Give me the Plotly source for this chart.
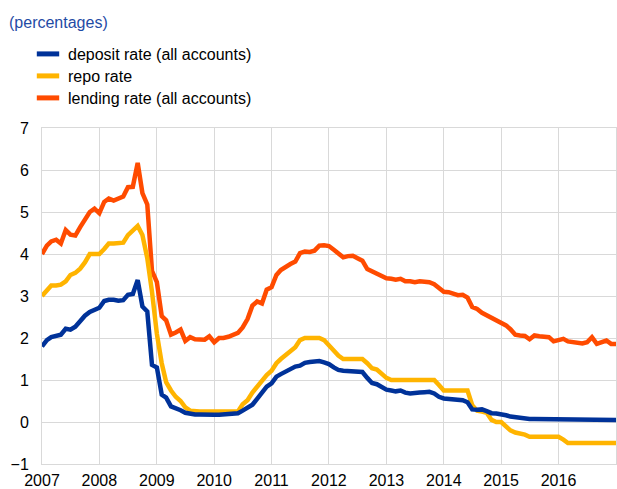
import plotly.graph_objects as go
import pandas as pd

months = pd.date_range("2007-01-01", periods=121, freq="MS").strftime("%Y-%m-%d").tolist()

year_ticks = ["2007-01-01", "2008-01-01", "2009-01-01", "2010-01-01", "2011-01-01",
              "2012-01-01", "2013-01-01", "2014-01-01", "2015-01-01", "2016-01-01"]
year_labels = ["2007", "2008", "2009", "2010", "2011", "2012", "2013", "2014", "2015", "2016"]

deposit_rate = [
    1.80, 1.95, 2.02, 2.06, 2.08, 2.22, 2.20, 2.27, 2.42, 2.53, 2.62, 2.67,
    2.72, 2.88, 2.91, 2.91, 2.89, 2.90, 3.03, 3.05, 3.38, 2.75, 2.63, 1.36,
    1.30, 0.65, 0.58, 0.37, 0.33, 0.28, 0.22, 0.19, 0.18, 0.18, 0.17, 0.17,
    0.17, 0.17, 0.18, 0.19, 0.20, 0.21, 0.27, 0.33, 0.41, 0.55, 0.70, 0.84,
    0.92, 1.08, 1.14, 1.20, 1.27, 1.32, 1.34, 1.41, 1.43, 1.44, 1.45, 1.42,
    1.38, 1.30, 1.24, 1.22, 1.21, 1.20, 1.19, 1.19, 1.05, 0.93, 0.90, 0.85,
    0.77, 0.75, 0.73, 0.75, 0.70, 0.68, 0.70, 0.70, 0.71, 0.72, 0.68, 0.60,
    0.56, 0.55, 0.54, 0.53, 0.52, 0.47, 0.30, 0.29, 0.30, 0.26, 0.21, 0.20,
    0.19, 0.16, 0.13, 0.11, 0.09, 0.08, 0.07, 0.07, 0.07, 0.07, 0.07, 0.07,
    0.07, 0.06, 0.06, 0.06, 0.06, 0.06, 0.06, 0.06, 0.05, 0.05, 0.05, 0.05,
    0.05,
]

repo_rate = [
    3.00, 3.12, 3.25, 3.25, 3.27, 3.35, 3.50, 3.55, 3.65, 3.80, 4.00, 4.00,
    4.00, 4.12, 4.25, 4.25, 4.25, 4.27, 4.45, 4.55, 4.67, 4.45, 3.90, 3.10,
    2.10, 1.40, 0.95, 0.75, 0.60, 0.50, 0.35, 0.27, 0.25, 0.25, 0.25, 0.25,
    0.25, 0.25, 0.25, 0.25, 0.25, 0.25, 0.42, 0.52, 0.70, 0.85, 1.00, 1.12,
    1.22, 1.40, 1.50, 1.60, 1.70, 1.78, 1.95, 2.00, 2.00, 2.00, 2.00, 1.95,
    1.82, 1.70, 1.58, 1.50, 1.50, 1.50, 1.50, 1.50, 1.40, 1.28, 1.25, 1.15,
    1.05, 1.00, 1.00, 1.00, 1.00, 1.00, 1.00, 1.00, 1.00, 1.00, 1.00, 0.88,
    0.75, 0.75, 0.75, 0.75, 0.75, 0.75, 0.40, 0.27, 0.25, 0.22, 0.05, 0.00,
    0.00, -0.10, -0.20, -0.25, -0.27, -0.30, -0.35, -0.35, -0.35, -0.35, -0.35, -0.35,
    -0.35, -0.42, -0.50, -0.50, -0.50, -0.50, -0.50, -0.50, -0.50, -0.50, -0.50, -0.50,
    -0.50,
]

lending_rate = [
    4.00, 4.20, 4.30, 4.34, 4.25, 4.57, 4.46, 4.44, 4.64, 4.83, 5.00, 5.08,
    4.97, 5.24, 5.32, 5.27, 5.33, 5.37, 5.59, 5.60, 6.17, 5.45, 5.18, 3.60,
    3.33, 2.52, 2.42, 2.08, 2.13, 2.20, 1.93, 2.02, 1.97, 1.96, 1.96, 2.04,
    1.90, 2.00, 2.00, 2.03, 2.08, 2.12, 2.25, 2.45, 2.77, 2.87, 2.82, 3.15,
    3.21, 3.50, 3.62, 3.70, 3.76, 3.82, 4.02, 4.06, 4.05, 4.08, 4.20, 4.21,
    4.19, 4.10, 4.00, 3.92, 3.95, 3.96, 3.90, 3.84, 3.64, 3.58, 3.52, 3.46,
    3.42, 3.41, 3.39, 3.41, 3.35, 3.35, 3.33, 3.35, 3.34, 3.33, 3.28, 3.20,
    3.10, 3.09, 3.05, 3.02, 3.03, 2.96, 2.74, 2.69, 2.60, 2.54, 2.47, 2.40,
    2.35, 2.30, 2.21, 2.08, 2.06, 2.05, 1.97, 2.06, 2.04, 2.02, 2.02, 1.92,
    1.94, 1.98, 1.92, 1.90, 1.88, 1.87, 1.90, 2.02, 1.86, 1.90, 1.94, 1.86,
    1.86,
]

series = [
    ("deposit rate (all accounts)", deposit_rate, "#003299", "legend"),
    ("repo rate", repo_rate, "#FFB400", "legend2"),
    ("lending rate (all accounts)", lending_rate, "#FF4B00", "legend3"),
]

fig = go.Figure()
for name, vals, color, lg in [series[2], series[1], series[0]]:
    fig.add_trace(go.Scatter(x=months, y=vals, mode="lines", name=name,
                             line=dict(color=color, width=4.5), showlegend=False,
                             hoverinfo="skip"))
for name, vals, color, lg in series:
    fig.add_trace(go.Scatter(x=[None], y=[None], mode="markers", name=name, legend=lg,
                             marker=dict(symbol="line-ew", size=16, color=color,
                                         line=dict(color=color, width=5)),
                             showlegend=True))

def legend_at(top_px):
    return dict(xref="container", yref="container", x=28/617, xanchor="left",
                y=1 - top_px/489, yanchor="top", font=dict(size=16),
                bgcolor="rgba(0,0,0,0)")

grid = "#D9D9D9"
fig.update_layout(
    width=617, height=489,
    margin=dict(l=42, r=1, t=128, b=25, autoexpand=False),
    paper_bgcolor="white", plot_bgcolor="white",
    font=dict(family="Liberation Sans, Arial, sans-serif", size=16, color="#000000"),
    annotations=[dict(text="(percentages)", xref="paper", yref="paper",
                      x=(7 - 42) / 574, xanchor="left", y=(464 - 22) / 336, yanchor="middle",
                      showarrow=False, font=dict(size=16, color="#1F4BA5"))],
    legend=legend_at(37),
    legend2=legend_at(59),
    legend3=legend_at(81),
    xaxis=dict(type="date", range=["2007-01-01", "2017-01-01"], tickvals=year_ticks,
               ticktext=year_labels, showgrid=True, gridcolor=grid, gridwidth=1,
               showline=True, linecolor=grid, linewidth=1, mirror=True,
               ticks="", zeroline=False, tickfont=dict(size=16), ticklabelstandoff=2),
    yaxis=dict(range=[-1, 7], dtick=1, tick0=0, showgrid=True, gridcolor=grid, gridwidth=1,
               showline=True, linecolor=grid, linewidth=1, mirror=True,
               ticks="", zeroline=False, ticklabelstandoff=9, tickfont=dict(size=16)),
)

fig.write_html("out.html", config={"displayModeBar": False},
               post_script="document.body.style.margin='0';document.body.style.padding='0';document.body.style.overflow='hidden';")
